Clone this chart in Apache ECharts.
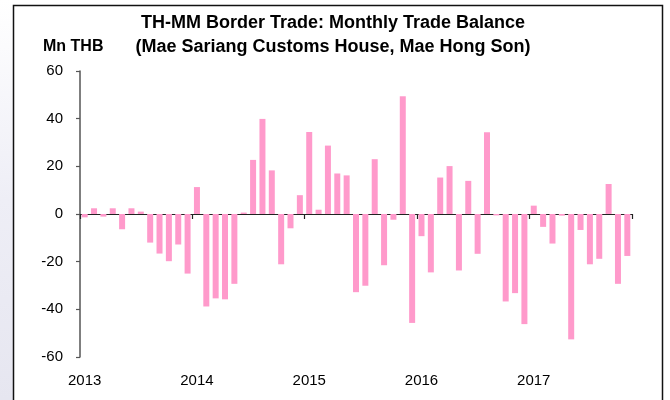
<!DOCTYPE html>
<html>
<head>
<meta charset="utf-8">
<script src="https://cdn.jsdelivr.net/npm/echarts@6/dist/echarts.min.js"></script>
<style>
  html, body { margin: 0; padding: 0; background: #fff; }
  #chart { width: 670px; height: 400px; }
</style>
</head>
<body>
<div id="chart"></div>
<script>
// months Jan 2013 .. Nov 2017
const years = ['2013', '2014', '2015', '2016', '2017'];
const months = [];
years.forEach(function (y) {
    for (let m = 1; m <= 12; m++) {
        if (y === '2017' && m > 11) break;
        months.push(y + '-' + (m < 10 ? '0' + m : m));
    }
});

// trade balance, Mn THB
const balance2013 = [-1.4, 2.4, -1.1, 2.4, -6.4, 2.4, 1.0, -12.0, -16.6, -19.8, -12.8, -25.0];
const balance2014 = [11.3, -38.8, -35.4, -35.8, -29.3, 0.6, 22.7, 39.9, 18.3, -21.1, -6.0, 7.9];
const balance2015 = [34.4, 1.8, 28.7, 17.0, 16.2, -32.8, -30.1, 23.0, -21.5, -2.4, 49.4, -45.7];
const balance2016 = [-9.3, -24.5, 15.3, 20.1, -23.7, 13.9, -16.7, 34.3, -0.6, -36.7, -33.2, -46.2];
const balance2017 = [3.5, -5.4, -12.4, -0.7, -52.6, -6.7, -21.1, -18.8, 12.6, -29.3, -17.6];
const balance = [].concat(balance2013, balance2014, balance2015, balance2016, balance2017);

const yTicks = { min: -60, max: 60, step: 20 };

const chart = echarts.init(document.getElementById('chart'));

const font = '"Liberation Sans", Arial, sans-serif';

chart.setOption({
    animation: false,
    backgroundColor: '#ffffff',
    graphic: [
        {
            type: 'rect',
            left: 0, top: 0,
            shape: { x: 0, y: 0, width: 13, height: 400 },
            style: {
                fill: new echarts.graphic.LinearGradient(0, 0, 0, 1, [
                    { offset: 0, color: '#ffffff' },
                    { offset: 0.5, color: '#eeeef6' },
                    { offset: 1, color: '#e6e6f0' }
                ])
            },
            silent: true, z: -10
        },
        {
            type: 'rect',
            shape: { x: 13.5, y: 5.5, width: 649, height: 400 },
            style: { fill: '#ffffff', stroke: '#111', lineWidth: 1.5 },
            silent: true, z: -5
        }
    ],
    title: {
        text: 'TH-MM Border Trade: Monthly Trade Balance\n(Mae Sariang Customs House, Mae Hong Son)',
        left: 328,
        top: 6,
        textAlign: 'center',
        textStyle: {
            fontFamily: font,
            fontSize: 18,
            fontWeight: 'bold',
            color: '#000',
            lineHeight: 24
        }
    },
    grid: { left: 80, right: 38, top: 71, bottom: 43, containLabel: false },
    xAxis: [
        {
            type: 'category',
            data: months,
            position: 'bottom',
            boundaryGap: true,
            axisLine: { show: false, onZero: false },
            axisTick: { show: false },
            splitLine: { show: false },
            axisLabel: {
                interval: function (i) { return i % 12 === 0; },
                formatter: function (v) { return v.slice(0, 4); },
                fontFamily: font,
                fontSize: 15,
                color: '#000',
                margin: 16
            }
        },
        {
            type: 'category',
            data: months,
            position: 'bottom',
            boundaryGap: true,
            axisLine: { show: true, onZero: true, lineStyle: { color: '#222', width: 1.2 } },
            axisTick: {
                show: true,
                length: 5,
                interval: function (i) { return i % 12 === 0; },
                lineStyle: { color: '#222', width: 1.2 }
            },
            axisLabel: { show: false },
            splitLine: { show: false }
        }
    ],
    yAxis: {
        type: 'value',
        min: yTicks.min,
        max: yTicks.max,
        interval: yTicks.step,
        name: 'Mn THB',
        nameLocation: 'end',
        nameGap: 16,
        nameTextStyle: {
            fontFamily: font,
            fontSize: 16,
            fontWeight: 'bold',
            color: '#000',
            align: 'left',
            padding: [0, 0, 0, -37]
        },
        axisLine: { show: true, lineStyle: { color: '#555', width: 1.5 } },
        axisTick: { show: true, length: 4, lineStyle: { color: '#555', width: 1.2 } },
        splitLine: { show: false },
        axisLabel: {
            fontFamily: font,
            fontSize: 15,
            color: '#000',
            margin: 17
        }
    },
    series: [{
        type: 'bar',
        data: balance,
        xAxisIndex: 0,
        barWidth: 6,
        itemStyle: { color: '#ff9acb' }
    }]
});
</script>
</body>
</html>
